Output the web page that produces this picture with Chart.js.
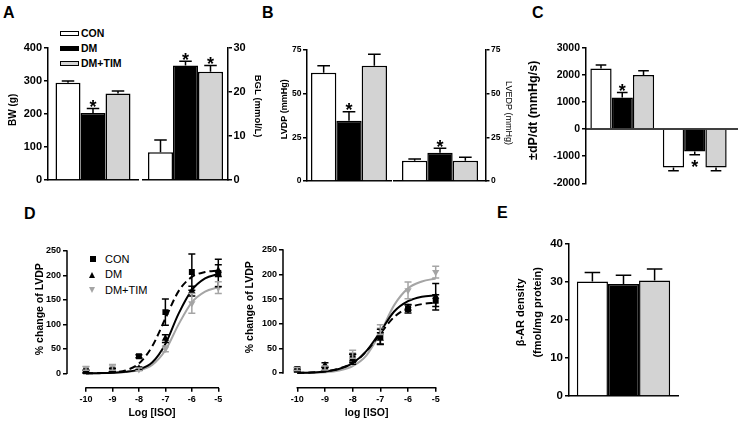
<!DOCTYPE html>
<html><head><meta charset="utf-8">
<script src="https://cdn.jsdelivr.net/npm/chart.js@4/dist/chart.umd.min.js"></script>
<style>
html,body{margin:0;padding:0;background:#fff;}
#wrap{position:relative;width:738px;height:422px;overflow:hidden;background:#fff;font-family:'Liberation Sans',Arial,sans-serif;color:#000;}
canvas{position:absolute;}
.abs{position:absolute;white-space:nowrap;}
.let{font-weight:bold;font-size:16px;line-height:16px;}
.lgA{font-weight:bold;font-size:10.5px;line-height:10.5px;}
.lgD{font-size:11px;line-height:11px;}
.bx{position:absolute;width:17px;height:3px;border:1.2px solid #000;}
</style></head><body><div id="wrap">
<div class="abs let" style="left:3px;top:5px">A</div>
<div class="abs let" style="left:262px;top:5px">B</div>
<div class="abs let" style="left:532px;top:5px">C</div>
<div class="abs let" style="left:24px;top:206px">D</div>
<div class="abs let" style="left:497px;top:205px">E</div>

<div class="bx" style="left:60px;top:30.5px;background:#fff"></div>
<div class="bx" style="left:60px;top:45.5px;background:#000"></div>
<div class="bx" style="left:60px;top:60.5px;background:#d3d3d3"></div>
<div class="abs lgA" style="left:81px;top:28.2px">CON</div>
<div class="abs lgA" style="left:81px;top:43.2px">DM</div>
<div class="abs lgA" style="left:81px;top:58.2px">DM+TIM</div>

<div class="abs" style="left:89.5px;top:256px;width:6px;height:6px;background:#000"></div>
<div class="abs" style="left:89px;top:271.5px;width:0;height:0;border-left:3.5px solid transparent;border-right:3.5px solid transparent;border-bottom:6px solid #000"></div>
<div class="abs" style="left:89px;top:287px;width:0;height:0;border-left:3.5px solid transparent;border-right:3.5px solid transparent;border-top:6px solid #a5a5a5"></div>
<div class="abs lgD" style="left:105px;top:253.6px">CON</div>
<div class="abs lgD" style="left:105px;top:269.1px">DM</div>
<div class="abs lgD" style="left:105px;top:284.6px">DM+TIM</div>
</div>
<script>
// ---------------- DATA ----------------
const groups = ['CON', 'DM', 'DM+TIM'];
const bwMean = [295, 203, 262];
const bwErr = [5, 14, 8];
const bwSig = [false, true, false];
const bglMean = [6.3, 26.0, 24.6];
const bglErr = [2.8, 1.0, 1.4];
const bglSig = [false, true, true];
const lvdpMean = [62, 34.5, 66];
const lvdpErr = [4, 5.2, 6.5];
const lvdpSig = [false, true, false];
const lvedpMean = [11.6, 16.2, 11.6];
const lvedpErr = [1, 2.5, 2];
const lvedpSig = [false, true, false];
const dpdtCats = ['+dP/dt', '-dP/dt'];
const dpdtCON = [2236, -1417];
const dpdtCONErr = [124, 123];
const dpdtDM = [1166, -826];
const dpdtDMErr = [184, 124];
const dpdtDMSig = [true, true];
const dpdtTIM = [1990, -1417];
const dpdtTIMErr = [160, 123];
const betaMean = [30.1, 29.5, 30.4];
const betaErr = [2.4, 2.3, 3.0];

const doseX = [-10, -9, -8, -7, -6, -5];
const fitX = [-10, -9.5, -9, -8.5, -8, -7.5, -7, -6.5, -6, -5.5, -5];
// D left
const dlConY = [4, 6, 35, 125, 207, 205];
const dlConE = [3, 4, 3, 27, 37, 28];
const dlDmY = [3, 7, 10, 71, 168, 210];
const dlDmE = [2, 3, 3, 8, 10, 12];
const dlTimY = [10, 12, 8, 50, 143, 175];
const dlTimE = [4, 6, 3, 6, 20, 12];
const dlConFit = [0, 0.5, 2, 6, 20, 55, 112, 168, 197, 207, 210];
const dlDmFit = [0, 0.3, 1, 3, 8, 22, 60, 122, 170, 194, 203];
const dlTimFit = [0, 0.3, 1, 2.5, 6, 17, 47, 100, 145, 167, 176];
// D right
const drConY = [8, 8, 30, 74, 130, 147];
const drConE = [3, 3, 8, 15, 8, 12];
const drDmY = [5, 16, 28, 70, 133, 155];
const drDmE = [2, 5, 10, 12, 6, 27];
const drTimY = [8, 10, 38, 88, 168, 205];
const drTimE = [3, 4, 8, 10, 17, 12];
const drConFit = [0, 1, 3, 9, 20, 44, 80, 114, 132, 140, 143];
const drDmFit = [0, 1, 3, 8, 20, 45, 84, 125, 146, 155, 158];
const drTimFit = [0, 0.5, 1.5, 5, 14, 36, 82, 138, 172, 186, 192];

const yTicksBW = [0, 100, 200, 300, 400];
const yTicksBGL = [0, 10, 20, 30];
const yTicksLV = [0, 25, 50, 75];
const yTicksDP = [-2000, -1000, 0, 1000, 2000, 3000];
const yTicksD = [0, 50, 100, 150, 200, 250];
const xTicksD = [-10, -9, -8, -7, -6, -5];
const yTicksE = [0, 10, 20, 30, 40];

// ---------------- STYLE ----------------
const F = "'Liberation Sans', Arial, sans-serif";
const FILLS = ['#ffffff', '#000000', '#d3d3d3'];
const GRAY = '#a5a5a5';
const STAR = 18;
const wrap = document.getElementById('wrap');

const errPlugin = {
  id: 'errbars',
  afterDatasetsDraw(chart) {
    const ctx = chart.ctx;
    chart.data.datasets.forEach((ds, i) => {
      if (!ds.errors) return;
      const meta = chart.getDatasetMeta(i);
      const ys = chart.scales[meta.yAxisID];
      ctx.save();
      ctx.strokeStyle = ds.errColor || '#000';
      ctx.lineWidth = 1.5;
      meta.data.forEach((el, j) => {
        const raw = ds.data[j];
        const v = (typeof raw === 'object') ? raw.y : raw;
        const e = ds.errors[j];
        if (e == null) return;
        const x = el.x;
        if (ds.errBoth) {
          const y1 = ys.getPixelForValue(v + e), y2 = ys.getPixelForValue(v - e);
          const hw = 3.5;
          ctx.beginPath();
          ctx.moveTo(x, y1); ctx.lineTo(x, y2);
          ctx.moveTo(x - hw, y1); ctx.lineTo(x + hw, y1);
          ctx.moveTo(x - hw, y2); ctx.lineTo(x + hw, y2);
          ctx.stroke();
        } else {
          const s = v >= 0 ? 1 : -1;
          const y0 = ys.getPixelForValue(v), y1 = ys.getPixelForValue(v + s * e);
          const hw = el.width * 0.25;
          ctx.beginPath();
          ctx.moveTo(x, y0); ctx.lineTo(x, y1);
          ctx.moveTo(x - hw, y1); ctx.lineTo(x + hw, y1);
          ctx.stroke();
          if (ds.stars && ds.stars[j]) {
            ctx.fillStyle = '#000';
            ctx.font = 'bold ' + STAR + 'px ' + F;
            ctx.textAlign = 'center';
            ctx.textBaseline = 'alphabetic';
            const yc = s > 0 ? y1 - 6 : y1 + 8;
            ctx.fillText('*', x, yc + 0.58 * STAR);
          }
        }
      });
      ctx.restore();
    });
  }
};

const zeroLine = {
  id: 'zeroLine',
  afterDatasetsDraw(chart) {
    const ctx = chart.ctx, y = chart.scales.y.getPixelForValue(0);
    ctx.save(); ctx.strokeStyle = '#000'; ctx.lineWidth = 1.5;
    ctx.beginPath(); ctx.moveTo(chart.chartArea.left, y); ctx.lineTo(chart.width, y); ctx.stroke();
    ctx.restore();
  }
};

const offsetAxes = {
  id: 'offsetAxes',
  beforeDatasetsDraw(chart) {
    const ctx = chart.ctx, xs = chart.scales.x, ys = chart.scales.y, ca = chart.chartArea;
    ctx.save(); ctx.strokeStyle = '#000'; ctx.lineWidth = 1.5;
    ctx.beginPath();
    ctx.moveTo(ca.left, ys.getPixelForValue(yTicksD[yTicksD.length - 1]) - 0.75);
    ctx.lineTo(ca.left, ys.getPixelForValue(yTicksD[0]) + 0.75);
    ctx.moveTo(xs.getPixelForValue(xTicksD[0]) - 0.75, ca.bottom);
    ctx.lineTo(xs.getPixelForValue(xTicksD[xTicksD.length - 1]) + 0.75, ca.bottom);
    ctx.stroke(); ctx.restore();
  }
};

function mk(ca, yw, rw, xh, config, extra) {
  const PT = 12, PR = 12, PB = 2, PL = 2;
  const cx = Math.floor(ca.l - yw - PL);
  const cy = Math.floor(ca.t - PT);
  const cw = Math.ceil(ca.r + rw + PR) - cx;
  const ch = Math.ceil(ca.b + xh + PB) - cy;
  const cv = document.createElement('canvas');
  cv.width = cw; cv.height = ch;
  Object.assign(cv.style, {left: cx + 'px', top: cy + 'px', width: cw + 'px', height: ch + 'px'});
  wrap.appendChild(cv);
  const pad = {left: ca.l - yw - cx, top: ca.t - cy, right: cx + cw - ca.r - rw, bottom: cy + ch - ca.b - xh};
  config.options = Object.assign({
    responsive: false, maintainAspectRatio: false, animation: false, devicePixelRatio: 1,
    plugins: {legend: {display: false}, tooltip: {enabled: false}}
  }, config.options || {});
  config.options.layout = {padding: pad};
  config.plugins = [errPlugin].concat(extra || []);
  return new Chart(cv, config);
}

function yAxis(o) {
  return {
    position: o.pos || 'left', min: o.min, max: o.max,
    afterBuildTicks: s => { s.ticks = o.ticks.map(v => ({value: v})); },
    ticks: {color: '#000', font: {family: F, size: o.tfs, weight: 'bold'}, padding: o.tp, callback: v => String(v)},
    grid: {display: true, drawOnChartArea: false, drawTicks: true, tickLength: o.tl, color: '#000', lineWidth: 1.5},
    border: {display: o.border !== false, color: '#000', width: 1.5},
    title: {display: true, text: o.title, color: '#000', padding: 0,
      font: {family: F, size: o.fs, weight: o.fw || 'bold', lineHeight: o.lh || 1.2}},
    afterFit: s => { s.width = o.w; }
  };
}
function xCat(h, border) {
  return {
    grid: {display: false}, ticks: {display: false},
    border: {display: border !== false, color: '#000', width: 1.5},
    afterFit: s => { s.height = h; }
  };
}
function barSets(means, errs, sigs) {
  return groups.map((g, i) => ({
    label: g, data: [means[i]], errors: [errs[i]], stars: [sigs[i]],
    backgroundColor: FILLS[i], borderColor: '#000', borderWidth: 1.5
  }));
}
function tcx(center, fs, lh) { return center - fs * (lh || 1.2) / 2; }

// ---------- A left: BW ----------
(function () {
  const ca = {l: 48, t: 48, r: 138, b: 180};
  const yw = ca.l - tcx(13.5, 10);
  mk(ca, yw, 0, 8, {
    type: 'bar',
    data: {labels: ['BW'], datasets: barSets(bwMean, bwErr, bwSig).map(d => Object.assign(d, {categoryPercentage: 75 / 90, barPercentage: 1}))},
    options: {scales: {
      x: xCat(8),
      y: yAxis({min: 0, max: 400, ticks: yTicksBW, tfs: 11, tp: 2, tl: 4, title: '   BW (g)', fs: 10, w: yw})
    }}
  });
})();
// ---------- A right: BGL ----------
(function () {
  const ca = {l: 143, t: 48, r: 228, b: 180};
  const rw = 258 + 5.7 - ca.r;
  mk(ca, 0, rw, 8, {
    type: 'bar',
    data: {labels: ['BGL'], datasets: barSets(bglMean, bglErr, bglSig).map(d => Object.assign(d, {categoryPercentage: 75 / 85, barPercentage: 1}))},
    options: {scales: {
      x: xCat(8),
      y: yAxis({pos: 'right', min: 0, max: 30, ticks: yTicksBGL, tfs: 11, tp: 1.5, tl: 4, title: 'BGL (mmol/L)      ', fs: 9.5, w: rw})
    }}
  });
})();
// ---------- B left: LVDP ----------
(function () {
  const ca = {l: 307, t: 50, r: 391, b: 181};
  const yw = ca.l - tcx(285, 9);
  mk(ca, yw, 0, 8, {
    type: 'bar',
    data: {labels: ['LVDP'], datasets: barSets(lvdpMean, lvdpErr, lvdpSig).map(d => Object.assign(d, {categoryPercentage: 76 / 84, barPercentage: 1}))},
    options: {scales: {
      x: xCat(8),
      y: yAxis({min: 0, max: 75, ticks: yTicksLV, tfs: 8.5, tp: 1.5, tl: 4, title: '     LVDP (mmHg)', fs: 9, w: yw})
    }}
  });
})();
// ---------- B right: LVEDP ----------
(function () {
  const ca = {l: 394, t: 50, r: 486, b: 181};
  const rw = 508.5 + 5.4 - ca.r;
  mk(ca, 0, rw, 8, {
    type: 'bar',
    data: {labels: ['LVEDP'], datasets: barSets(lvedpMean, lvedpErr, lvedpSig).map(d => Object.assign(d, {categoryPercentage: 76 / 92, barPercentage: 1}))},
    options: {scales: {
      x: xCat(8),
      y: yAxis({pos: 'right', min: 0, max: 75, ticks: yTicksLV, tfs: 8.5, tp: 1.5, tl: 3.5, title: 'LVEDP (mmHg)  ', fs: 9, fw: 'normal', w: rw})
    }}
  });
})();
// ---------- C: dP/dt ----------
(function () {
  const ca = {l: 586, t: 47.7, r: 731, b: 183.3};
  const yw = ca.l - tcx(534, 12.5);
  const mkd = (lab, d, e, s, i) => ({label: lab, data: d, errors: e, stars: s, backgroundColor: FILLS[i],
    borderColor: '#000', borderWidth: 1.5, categoryPercentage: 0.88, barPercentage: 1});
  mk(ca, yw, 0, 8, {
    type: 'bar',
    data: {labels: dpdtCats, datasets: [
      mkd(groups[0], dpdtCON, dpdtCONErr, null, 0),
      mkd(groups[1], dpdtDM, dpdtDMErr, dpdtDMSig, 1),
      mkd(groups[2], dpdtTIM, dpdtTIMErr, null, 2)
    ]},
    options: {scales: {
      x: xCat(8, false),
      y: yAxis({min: -2000, max: 3000, ticks: yTicksDP, tfs: 10.5, tp: 2, tl: 4, title: '   \u00B1dP/dt (mmHg/s)', fs: 12.5, w: yw})
    }}
  }, [zeroLine]);
})();
// ---------- D panels ----------
function doseChart(ca, yw, dx10, dx5, y250, y0, yTitle, xTitle, Y, E, FIT) {
  const pxPerDec = (dx5 - dx10) / 5;
  const xmin = -10 - (dx10 - ca.l) / pxPerDec;
  const xmax = -5 + (ca.r - dx5) / pxPerDec;
  const pxPerU = (y0 - y250) / 250;
  const ymin = -(ca.b - y0) / pxPerU;
  const ymax = 250 + (y250 - ca.t) / pxPerU;
  const xh = 419.3 - ca.b;
  const pts = (ys) => doseX.map((x, i) => ({x, y: ys[i]}));
  const fit = (ys) => fitX.map((x, i) => ({x, y: ys[i]}));
  const mkPts = (ys, es, style, col, rot, r) => ({data: pts(ys), errors: es, errBoth: true, errColor: col,
    showLine: false, pointStyle: style, rotation: rot || 0, pointRadius: r, backgroundColor: col, borderColor: col, borderWidth: 0});
  const mkFit = (ys, col, dash) => ({data: fit(ys), borderColor: col, borderWidth: 2, borderDash: dash || [],
    pointRadius: 0, cubicInterpolationMode: 'monotone', fill: false});
  const ax = yAxis({min: ymin, max: ymax, ticks: yTicksD, tfs: 9, tp: 2, tl: 4, title: yTitle, fs: 10.5, w: yw, border: false});
  mk(ca, yw, 0, xh, {
    type: 'line',
    data: {datasets: [
      mkPts(Y[0], E[0], 'rect', '#000', 0, 4.2),
      mkPts(Y[1], E[1], 'triangle', '#000', 0, 4.2),
      mkPts(Y[2], E[2], 'triangle', GRAY, 180, 4.2),
      mkFit(FIT[0], '#000', [7, 4]),
      mkFit(FIT[1], '#000'),
      mkFit(FIT[2], GRAY)
    ]},
    options: {scales: {
      x: {type: 'linear', min: xmin, max: xmax,
        afterBuildTicks: s => { s.ticks = xTicksD.map(v => ({value: v})); },
        ticks: {color: '#000', font: {family: F, size: 9, weight: 'bold'}, padding: 2, callback: v => String(v)},
        grid: {display: true, drawOnChartArea: false, drawTicks: true, tickLength: 4, color: '#000', lineWidth: 1.5},
        border: {display: false},
        title: {display: true, text: xTitle, color: '#000', padding: 0, font: {family: F, size: 10.5, weight: 'bold', lineHeight: 1.2}},
        afterFit: s => { s.height = xh; }},
      y: ax
    }}
  }, [offsetAxes]);
}
(function () {
  const ca = {l: 67, t: 251, r: 237, b: 387.7};
  doseChart(ca, ca.l - tcx(40, 10.5), 86, 218.3, 251, 373.3, '       % change of LVDP', 'Log [ISO]',
    [dlConY, dlDmY, dlTimY], [dlConE, dlDmE, dlTimE], [dlConFit, dlDmFit, dlTimFit]);
})();
(function () {
  const ca = {l: 283, t: 250, r: 450, b: 387.7};
  doseChart(ca, ca.l - tcx(250, 10.5), 297.3, 435.7, 250, 373, '        % change of LVDP', 'log [ISO]',
    [drConY, drDmY, drTimY], [drConE, drDmE, drTimE], [drConFit, drDmFit, drTimFit]);
})();
// ---------- E: beta-AR ----------
(function () {
  const ca = {l: 569, t: 244, r: 678, b: 396};
  const lh = 1.5, fs = 11;
  const yw = ca.l - (521 - fs * lh / 2);
  mk(ca, yw, 0, 8, {
    type: 'bar',
    data: {labels: ['beta'], datasets: groups.map((g, i) => ({label: g, data: [betaMean[i]], errors: [betaErr[i]],
      backgroundColor: FILLS[i], borderColor: '#000', borderWidth: 1.5, categoryPercentage: 93.3 / 109, barPercentage: 1}))},
    options: {scales: {
      x: xCat(8),
      y: yAxis({min: 0, max: 40, ticks: yTicksE, tfs: 11.5, tp: 2, tl: 4, title: ['     \u03B2-AR density', '     (fmol/mg protein)'], fs: fs, lh: lh, w: yw})
    }}
  });
})();
</script>
</body></html>
